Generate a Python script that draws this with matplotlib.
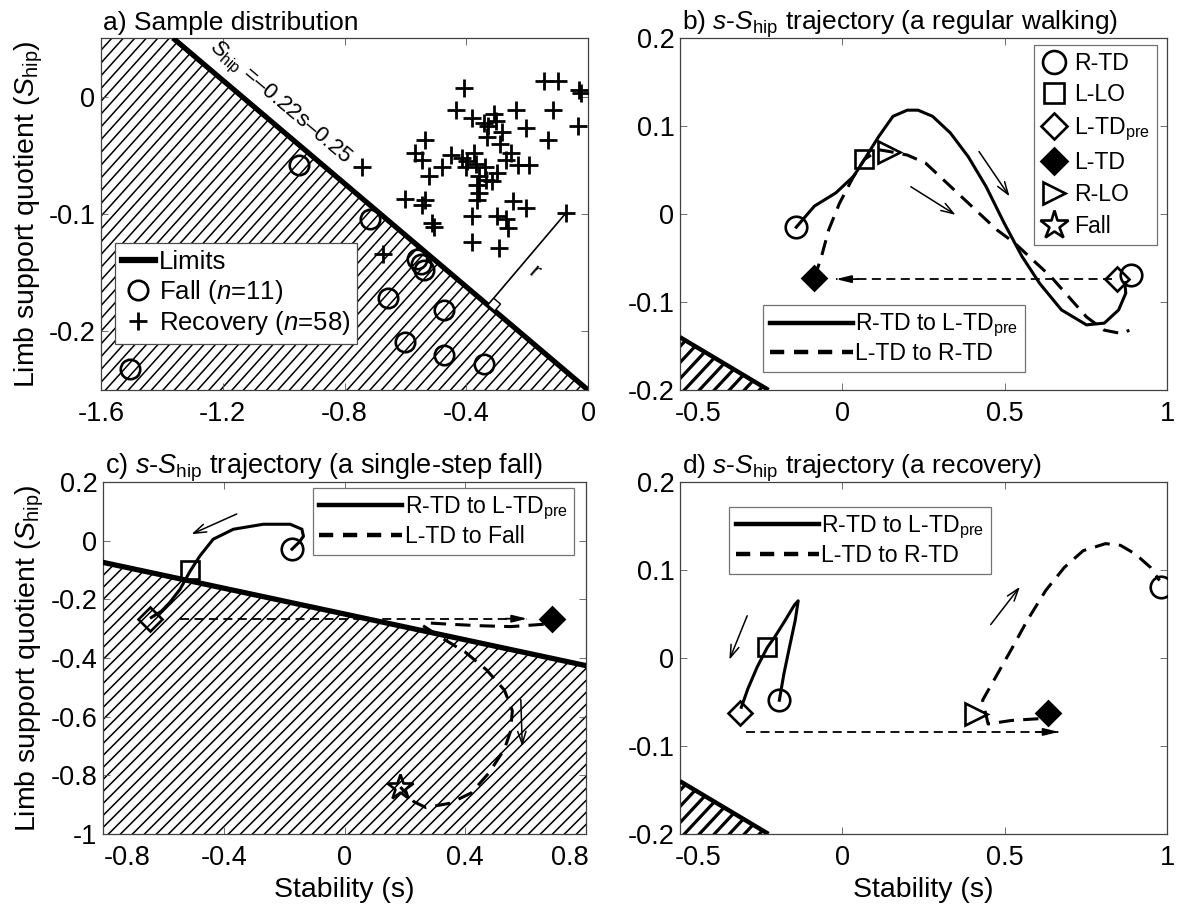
import numpy as np
import matplotlib
matplotlib.use('Agg')
import matplotlib.pyplot as plt
from matplotlib.collections import LineCollection
from matplotlib.patches import Polygon
from matplotlib.lines import Line2D
from matplotlib.transforms import ScaledTranslation

plt.rcParams['font.family'] = ['Liberation Sans', 'DejaVu Sans']
plt.rcParams['axes.unicode_minus'] = False
plt.rcParams['mathtext.fontset'] = 'custom'
plt.rcParams['mathtext.rm'] = 'Liberation Sans'
plt.rcParams['mathtext.it'] = 'Liberation Sans:italic'
plt.rcParams['mathtext.bf'] = 'Liberation Sans:bold'

# ---------------- data ----------------
LIMIT_SLOPE = -0.22
LIMIT_INTERCEPT = -0.25

# panel a
fall_s = [-0.948, -0.716, -0.562, -0.540, -0.548, -0.656, -0.474, -0.601, -0.474, -0.342, -1.504]
fall_S = [-0.058, -0.104, -0.138, -0.148, -0.143, -0.172, -0.182, -0.209, -0.2205, -0.228, -0.232]
rec_s = [-0.408, -0.143, -0.099, -0.028, -0.022, -0.435, -0.380, -0.342, -0.309, -0.303,
         -0.237, -0.116, -0.033, -0.204, -0.281, -0.331, -0.132, -0.534, -0.567, -0.545,
         -0.479, -0.744, -0.413, -0.375, -0.397, -0.369, -0.254, -0.270, -0.231, -0.193,
         -0.523, -0.358, -0.336, -0.314, -0.364, -0.358, -0.601, -0.534, -0.545, -0.364,
         -0.248, -0.204, -0.072, -0.512, -0.507, -0.380, -0.298, -0.270, -0.264, -0.380,
         -0.292, -0.672, -0.330, -0.290, -0.400, -0.340, -0.450, -0.300]
rec_S = [0.007, 0.013, 0.013, 0.006, 0.003, -0.011, -0.018, -0.0225, -0.015, -0.021,
         -0.011, -0.011, -0.025, -0.027, -0.030, -0.034, -0.037, -0.037, -0.048, -0.054,
         -0.060, -0.060, -0.052, -0.048, -0.055, -0.057, -0.048, -0.054, -0.058, -0.058,
         -0.068, -0.068, -0.071, -0.072, -0.075, -0.082, -0.087, -0.088, -0.092, -0.088,
         -0.089, -0.095, -0.099, -0.108, -0.111, -0.102, -0.102, -0.104, -0.112, -0.124,
         -0.129, -0.134, -0.025, -0.040, -0.060, -0.060, -0.050, -0.065]
r_point = (-0.072, -0.099)

# panel b (regular walking)
b_solid_s = [-0.142, -0.086, -0.020, 0.035, 0.068, 0.112, 0.156, 0.200, 0.233, 0.278, 0.333,
             0.388, 0.443, 0.498, 0.553, 0.608, 0.675, 0.752, 0.807, 0.851, 0.873, 0.870]
b_solid_S = [-0.015, 0.009, 0.024, 0.043, 0.062, 0.088, 0.111, 0.118, 0.118, 0.111, 0.092,
             0.065, 0.031, -0.010, -0.048, -0.079, -0.109, -0.126, -0.124, -0.109, -0.090, -0.078]
b_dash_s = [-0.086, -0.064, -0.042, -0.009, 0.035, 0.068, 0.112, 0.145, 0.200, 0.256, 0.311,
            0.366, 0.421, 0.476, 0.531, 0.586, 0.642, 0.697, 0.752, 0.807, 0.862, 0.884]
b_dash_S = [-0.073, -0.048, -0.018, 0.012, 0.043, 0.062, 0.073, 0.071, 0.067, 0.058, 0.039,
            0.020, 0.001, -0.018, -0.033, -0.052, -0.071, -0.094, -0.117, -0.132, -0.136, -0.132]
b_RTD = ([-0.142, 0.890], [-0.015, -0.069])
b_LLO = ([0.068], [0.062])
b_LTDpre = ([0.846], [-0.074])
b_LTD = ([-0.086], [-0.073])
b_RLO = ([0.145], [0.071])
b_jump = ((0.83, -0.074), (-0.02, -0.074))
b_dir = [((0.421, 0.071), (0.515, 0.020)), ((0.211, 0.031), (0.349, -0.001))]

# panel c (single-step fall)
c_solid_s = [-0.174, -0.150, -0.136, -0.141, -0.180, -0.269, -0.368, -0.435, -0.479, -0.512,
             -0.545, -0.579, -0.606, -0.640]
c_solid_S = [-0.029, -0.005, 0.015, 0.039, 0.056, 0.056, 0.039, 0.005, -0.052, -0.105,
             -0.166, -0.211, -0.240, -0.262]
c_dash_s = [0.66, 0.55, 0.45, 0.35, 0.27, 0.26, 0.32, 0.40, 0.47, 0.53, 0.556, 0.55, 0.53,
            0.48, 0.42, 0.35, 0.27, 0.23, 0.185]
c_dash_S = [-0.285, -0.293, -0.29, -0.285, -0.28, -0.29, -0.33, -0.38, -0.44, -0.51, -0.58,
            -0.65, -0.71, -0.79, -0.86, -0.895, -0.91, -0.89, -0.84]
c_RTD = ([-0.174], [-0.029])
c_LLO = ([-0.512], [-0.100])
c_LTDpre = ([-0.645], [-0.268])
c_LTD = ([0.689], [-0.268])
c_Fall = ([0.185], [-0.840])
c_jump = ((-0.545, -0.266), (0.606, -0.266))
c_dir = [((-0.357, 0.091), (-0.507, 0.022)), ((0.584, -0.542), (0.589, -0.701))]

# panel d (recovery)
d_solid_s = [-0.194, -0.180, -0.163, -0.145, -0.136, -0.148, -0.179, -0.208, -0.231, -0.262,
             -0.291, -0.311]
d_solid_S = [-0.048, -0.018, 0.012, 0.043, 0.065, 0.060, 0.041, 0.024, 0.012, -0.010,
             -0.035, -0.056]
d_dash_s = [0.604, 0.52, 0.449, 0.432, 0.478, 0.524, 0.570, 0.627, 0.684, 0.742, 0.811,
            0.857, 0.903, 0.949, 0.977]
d_dash_S = [-0.069, -0.071, -0.075, -0.048, -0.018, 0.012, 0.043, 0.077, 0.103, 0.122,
            0.130, 0.128, 0.118, 0.103, 0.088]
d_RTD = ([-0.194, 0.981], [-0.048, 0.081])
d_LLO = ([-0.231], [0.012])
d_LTDpre = ([-0.316], [-0.063])
d_LTD = ([0.633], [-0.062])
d_RLO = ([0.411], [-0.064])
d_jump = ((-0.297, -0.084), (0.667, -0.084))
d_dir = [((-0.293, 0.048), (-0.348, -0.002)), ((0.457, 0.038), (0.547, 0.081))]

a_xticks = [-1.6, -1.2, -0.8, -0.4, 0]
a_xticklabels = ['-1.6', '-1.2', '-0.8', '-0.4', '0']
a_yticks = [-0.2, -0.1, 0]
a_yticklabels = ['-0.2', '-0.1', '0']
bd_xticks = [-0.5, 0, 0.5, 1]
bd_xticklabels = ['-0.5', '0', '0.5', '1']
bd_yticks = [-0.2, -0.1, 0, 0.1, 0.2]
bd_yticklabels = ['-0.2', '-0.1', '0', '0.1', '0.2']
c_xticks = [-0.8, -0.4, 0, 0.4, 0.8]
c_xticklabels = ['-0.8', '-0.4', '0', '0.4', '0.8']
c_yticks = [-1, -0.8, -0.6, -0.4, -0.2, 0, 0.2]
c_yticklabels = ['-1', '-0.8', '-0.6', '-0.4', '-0.2', '0', '0.2']

# ---------------- figure ----------------
W, H = 1179, 906
fig = plt.figure(figsize=(W / 100, H / 100), dpi=100)


def px_axes(l, t, r, b):
    return fig.add_axes([l / W, 1 - b / H, (r - l) / W, (b - t) / H])


axA = px_axes(101, 38, 588, 390)
axB = px_axes(680, 38, 1167, 390)
axC = px_axes(103, 482, 586, 834)
axD = px_axes(680, 482, 1167, 834)

TICK_FS = 19.5
LEG_FS = 16.6
LABEL_FS = 20.5


def style_axes(ax, xlim, ylim, xt, xtl, yt, ytl):
    ax.set_xlim(xlim)
    ax.set_ylim(ylim)
    ax.set_xticks(xt)
    ax.set_xticklabels(xtl)
    ax.set_yticks(yt)
    ax.set_yticklabels(ytl)
    ax.tick_params(direction='in', top=True, right=True, length=5, width=0.6,
                   color='0.35', labelsize=TICK_FS, pad=4)
    ax.tick_params(axis='x', pad=8)
    for sp in ax.spines.values():
        sp.set_linewidth(0.9)
        sp.set_color('0.25')


def limit(s):
    return LIMIT_SLOPE * np.asarray(s) + LIMIT_INTERCEPT


def hatch_polygon(ax, verts, spacing_px, lw, angle_deg=45):
    poly = Polygon(verts, closed=True, facecolor='white', edgecolor='none',
                   transform=ax.transData, zorder=0.5)
    ax.add_patch(poly)
    bb = ax.get_window_extent()
    Wp, Hp = bb.width, bb.height
    th = np.deg2rad(angle_deg)
    d = np.array([np.cos(th), np.sin(th)])
    n = np.array([-np.sin(th), np.cos(th)])
    L = Wp + Hp
    perp = spacing_px * np.sin(th)
    segs = []
    kmax = int(L / perp) + 2
    for k in range(-kmax, kmax + 1):
        c = np.array([Wp / 2, Hp / 2]) + n * k * perp
        p0 = c - d * L
        p1 = c + d * L
        segs.append([(p0[0] / Wp, p0[1] / Hp), (p1[0] / Wp, p1[1] / Hp)])
    lc = LineCollection(segs, colors='k', linewidths=lw, transform=ax.transAxes, zorder=1)
    lc.set_clip_path(poly)
    ax.add_collection(lc, autolim=False)


def title(ax, txt, fs=19):
    ax.text(0.0, 1.0, txt, transform=ax.transAxes + ScaledTranslation(2 / 100, 8 / 100, fig.dpi_scale_trans),
            ha='left', va='baseline', fontsize=fs)


def dir_arrow(ax, p0, p1):
    ax.annotate('', xy=p1, xytext=p0,
                arrowprops=dict(arrowstyle='->,head_length=0.9,head_width=0.3', lw=1.1,
                                color='k', shrinkA=0, shrinkB=0), zorder=4)


def jump_arrow(ax, p0, p1):
    ax.plot([p0[0], p1[0]], [p0[1], p1[1]], color='k', lw=1.3, dashes=(5, 3), zorder=3)
    sgn = -1 if p1[0] > p0[0] else 1
    ax.annotate('', xy=p1, xytext=(sgn * 16, 0), textcoords='offset points',
                arrowprops=dict(arrowstyle='-|>,head_length=0.9,head_width=0.22', lw=1.3,
                                color='k', fc='k', shrinkA=0, shrinkB=0), zorder=3)


def markers(ax, rtd, llo, ltdpre, ltd, rlo, fall=None):
    kw = dict(ls='none', mec='k', mew=1.9, zorder=5)
    ax.plot(*rtd, marker='o', ms=15.5, mfc='none', **kw)
    ax.plot(*llo, marker='s', ms=13.5, mfc='none', **kw)
    ax.plot(*ltdpre, marker='D', ms=12, mfc='none', **kw)
    ax.plot(*ltd, marker='D', ms=12, mfc='k', **kw)
    ax.plot(*rlo, marker='>', ms=15.5, mfc='none', **kw)
    if fall is not None:
        ax.plot(*fall, marker='*', ms=19, mfc='none', **kw)


DASH = (5, 3)
TRAJ_LW = 2.2

# ---------------- panel a ----------------
style_axes(axA, (-1.6, 0), (-0.25, 0.05), a_xticks, a_xticklabels, a_yticks, a_yticklabels)
s_top = (0.05 - LIMIT_INTERCEPT) / LIMIT_SLOPE
s_bot = (-0.25 - LIMIT_INTERCEPT) / LIMIT_SLOPE
hatch_polygon(axA, [(-1.6, 0.05), (s_top, 0.05), (s_bot, -0.25), (-1.6, -0.25)], 11.5, 1.1, 48)
axA.plot([s_top, s_bot], [0.05, -0.25], color='k', lw=3.8, zorder=3, solid_capstyle='butt')
axA.plot(fall_s, fall_S, ls='none', marker='o', ms=14, mfc='none', mec='k', mew=1.9, zorder=4)
axA.plot(rec_s, rec_S, ls='none', marker='+', ms=13.5, mec='k', mew=2.0, zorder=4)

# r: perpendicular (in display space) from r_point to the limit line
T = axA.transData
P = T.transform(r_point)
A = T.transform((-1.0, float(limit(-1.0))))
B = T.transform((0.0, float(limit(0.0))))
u = (B - A) / np.linalg.norm(B - A)
F = A + np.dot(P - A, u) * u
axA.plot(*zip(*T.inverted().transform([P, F])), color='k', lw=1.2, zorder=4)
nvec = (P - F) / np.linalg.norm(P - F)
sq = 9.0
sq_pts = T.inverted().transform([F, F + u * sq, F + u * sq + nvec * sq, F + nvec * sq])
axA.add_patch(Polygon(sq_pts, closed=True, facecolor='white', edgecolor='k', lw=1.0, zorder=4))
ang = np.degrees(np.arctan2(u[1], u[0]))
mid = T.inverted().transform(F + (P - F) * 0.45 + u * 14)
axA.text(mid[0], mid[1], 'r', rotation=ang, rotation_mode='anchor', ha='center', va='center',
         fontsize=16, zorder=5)
axA.text(-1.015, -0.006, r'$\mathit{S}_{\mathrm{hip}}$' + ' =\u20130.22s\u20130.25', rotation=ang,
         rotation_mode='anchor', ha='center', va='center', fontsize=16, zorder=5)

legA = axA.legend(handles=[Line2D([], [], color='k', lw=4.5),
                           Line2D([], [], ls='none', marker='o', ms=14, mfc='none', mec='k', mew=1.9),
                           Line2D([], [], ls='none', marker='+', ms=13.5, mec='k', mew=2.0)],
                  labels=['Limits', r'Fall ($\mathit{n}$=11)', r'Recovery ($\mathit{n}$=58)'],
                  loc='lower left', bbox_to_anchor=(0.029, 0.131), fontsize=18.5,
                  handlelength=1.3, handletextpad=0.15, borderpad=0.25, labelspacing=0.15,
                  borderaxespad=0, fancybox=False, framealpha=1, edgecolor='0.3')
legA.get_frame().set_linewidth(0.9)
legA.set_zorder(6)
title(axA, 'a) Sample distribution')

# ---------------- panels b, d ----------------
def small_limit(ax):
    s0 = -0.5
    s1 = (-0.2 - LIMIT_INTERCEPT) / LIMIT_SLOPE
    hatch_polygon(ax, [(s0, float(limit(s0))), (s1, -0.2), (s0, -0.2)], 15, 2.3, 47)
    ax.plot([s0, s1], [float(limit(s0)), -0.2], color='k', lw=3.2, zorder=3, solid_capstyle='butt')


style_axes(axB, (-0.5, 1), (-0.2, 0.2), bd_xticks, bd_xticklabels, bd_yticks, bd_yticklabels)
small_limit(axB)
axB.plot(b_solid_s, b_solid_S, color='k', lw=TRAJ_LW, zorder=3)
axB.plot(b_dash_s, b_dash_S, color='k', lw=TRAJ_LW, dashes=DASH, zorder=3)
jump_arrow(axB, *b_jump)
for p0, p1 in b_dir:
    dir_arrow(axB, p0, p1)
markers(axB, b_RTD, b_LLO, b_LTDpre, b_LTD, b_RLO)

mk = dict(ls='none', mec='k', mew=1.9)
mleg = axB.legend(handles=[Line2D([], [], marker='o', ms=16.5, mfc='none', **mk),
                           Line2D([], [], marker='s', ms=15, mfc='none', **mk),
                           Line2D([], [], marker='D', ms=13, mfc='none', **mk),
                           Line2D([], [], marker='D', ms=13, mfc='k', **mk),
                           Line2D([], [], marker='>', ms=16.5, mfc='none', **mk),
                           Line2D([], [], marker='*', ms=21, mfc='none', **mk)],
                  labels=['R-TD', 'L-LO', r'L-TD$_{\mathrm{pre}}$', 'L-TD', 'R-LO', 'Fall'],
                  loc='upper right', bbox_to_anchor=(0.979, 0.981), fontsize=LEG_FS,
                  handlelength=1.2, handletextpad=0.25, borderpad=0.3, labelspacing=0.38,
                  borderaxespad=0, fancybox=False, framealpha=1, edgecolor='0.45')
mleg.get_frame().set_linewidth(0.9)
axB.add_artist(mleg)


def line_legend(ax, label2, loc, anchor):
    lg = ax.legend(handles=[Line2D([], [], color='k', lw=3.2),
                            Line2D([], [], color='k', lw=3.2, dashes=(3.2, 2.2))],
                   labels=[r'R-TD to L-TD$_{\mathrm{pre}}$', label2],
                   loc=loc, bbox_to_anchor=anchor, fontsize=LEG_FS,
                   handlelength=3.6, handletextpad=0.1, borderpad=0.3, labelspacing=0.1,
                   borderaxespad=0, fancybox=False, framealpha=1, edgecolor='0.45')
    lg.get_frame().set_linewidth(0.9)
    lg.set_zorder(6)
    return lg


line_legend(axB, 'L-TD to R-TD', 'lower left', (0.171, 0.052))
title(axB, r'b) $\mathit{s}$-$\mathit{S}_{\mathrm{hip}}$ trajectory (a regular walking)')

style_axes(axD, (-0.5, 1), (-0.2, 0.2), bd_xticks, bd_xticklabels, bd_yticks, bd_yticklabels)
small_limit(axD)
axD.plot(d_solid_s, d_solid_S, color='k', lw=TRAJ_LW, zorder=3)
axD.plot(d_dash_s, d_dash_S, color='k', lw=TRAJ_LW, dashes=DASH, zorder=3)
jump_arrow(axD, *d_jump)
for p0, p1 in d_dir:
    dir_arrow(axD, p0, p1)
markers(axD, d_RTD, d_LLO, d_LTDpre, d_LTD, d_RLO)
line_legend(axD, 'L-TD to R-TD', 'upper left', (0.101, 0.929))
title(axD, r'd) $\mathit{s}$-$\mathit{S}_{\mathrm{hip}}$ trajectory (a recovery)')

# ---------------- panel c ----------------
style_axes(axC, (-0.8, 0.8), (-1, 0.2), c_xticks, c_xticklabels, c_yticks, c_yticklabels)
hatch_polygon(axC, [(-0.8, float(limit(-0.8))), (0.8, float(limit(0.8))), (0.8, -1), (-0.8, -1)],
              12, 1.1, 45)
axC.plot([-0.8, 0.8], [float(limit(-0.8)), float(limit(0.8))], color='k', lw=3.8, zorder=3)
axC.plot(c_solid_s, c_solid_S, color='k', lw=TRAJ_LW, zorder=3)
axC.plot(c_dash_s, c_dash_S, color='k', lw=TRAJ_LW, dashes=DASH, zorder=3)
jump_arrow(axC, *c_jump)
for p0, p1 in c_dir:
    dir_arrow(axC, p0, p1)
markers(axC, c_RTD, c_LLO, c_LTDpre, c_LTD, ([], []), fall=c_Fall)
line_legend(axC, 'L-TD to Fall', 'upper right', (0.976, 0.983))
title(axC, r'c) $\mathit{s}$-$\mathit{S}_{\mathrm{hip}}$ trajectory (a single-step fall)', fs=19.5)

# edge tick label offsets (as in the reference)
def shift_label(lbl, dx_px):
    lbl.set_transform(lbl.get_transform() + ScaledTranslation(dx_px / 100, 0, fig.dpi_scale_trans))


cl = axC.get_xticklabels()
shift_label(cl[0], 24)
shift_label(cl[-1], -16)
for ax in (axB, axD):
    shift_label(ax.get_xticklabels()[0], 18)

# axis labels
ylab = r'Limb support quotient ($\mathit{S}_{\mathrm{hip}}$)'
axA.set_ylabel(ylab, fontsize=LABEL_FS)
axA.yaxis.set_label_coords(-0.115, 0.5)
axC.set_ylabel(ylab, fontsize=LABEL_FS)
axC.yaxis.set_label_coords(-0.118, 0.5)
for ax in (axC, axD):
    ax.set_xlabel('Stability (s)', fontsize=LABEL_FS)
    ax.xaxis.set_label_coords(0.5, -0.122)

fig.savefig('out.png', dpi=100)
